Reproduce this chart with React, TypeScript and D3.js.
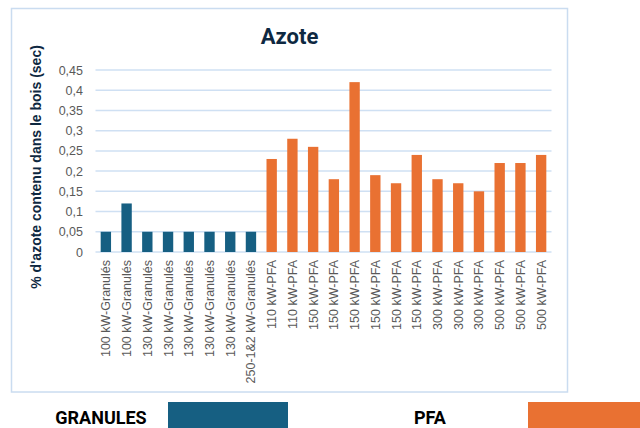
import React from "react";
import * as d3 from "d3";

const categories = [
  "100 kW-Granulés", "100 kW-Granulés", "130 kW-Granulés", "130 kW-Granulés",
  "130 kW-Granulés", "130 kW-Granulés", "130 kW-Granulés", "250-1&2 kW-Granulés",
  "110 kW-PFA", "110 kW-PFA", "150 kW-PFA", "150 kW-PFA", "150 kW-PFA",
  "150 kW-PFA", "150 kW-PFA", "150 kW-PFA", "300 kW-PFA", "300 kW-PFA",
  "300 kW-PFA", "500 kW-PFA", "500 kW-PFA", "500 kW-PFA",
];
const values = [
  0.05, 0.12, 0.05, 0.05, 0.05, 0.05, 0.05, 0.05,
  0.23, 0.28, 0.26, 0.18, 0.42, 0.19, 0.17, 0.24, 0.18, 0.17, 0.15, 0.22, 0.22, 0.24,
];
const groups = [
  "GRANULES", "GRANULES", "GRANULES", "GRANULES", "GRANULES", "GRANULES", "GRANULES", "GRANULES",
  "PFA", "PFA", "PFA", "PFA", "PFA", "PFA", "PFA", "PFA", "PFA", "PFA", "PFA", "PFA", "PFA", "PFA",
];
const yTicks = [0, 0.05, 0.1, 0.15, 0.2, 0.25, 0.3, 0.35, 0.4, 0.45];
const legendNames = ["GRANULES", "PFA"];
const colors: Record<string, string> = { GRANULES: "#165F82", PFA: "#E97132" };

export default function App() {
  const W = 640, H = 428;
  const left = 95.5, right = 551.5, top = 70, bottom = 252;
  const x = d3.scaleBand<number>().domain(d3.range(categories.length)).range([left, right]).paddingInner(0.5).paddingOuter(0.25);
  const y = d3.scaleLinear().domain([0, 0.45]).range([bottom, top]);
  const fmt = (v: number) => String(v).replace(".", ",");
  const legendX = [{ tx: 101, rx: 168, rw: 120 }, { tx: 430, rx: 528, rw: 120 }];
  return (
    <svg width={W} height={H} style={{ position: "absolute", left: 0, top: 0, background: "#fff" }}>
      <rect x={11.5} y={8.5} width={556} height={383.5} fill="#fff" stroke="#cadcf0" strokeWidth={1.5} />
      <text x={289.5} y={43.5} textAnchor="middle" fontFamily="Roboto" fontWeight={700} fontSize={22} fill="#0E2841">Azote</text>
      {yTicks.map((t) => (
        <g key={t}>
          <line x1={left} x2={right} y1={y(t)} y2={y(t)} stroke="#cfe0f3" strokeWidth={1.5} />
          <text x={83} y={y(t) + 4.5} textAnchor="end" fontFamily="Liberation Sans, Arial" fontSize={12.5} fill="#595959">{fmt(t)}</text>
        </g>
      ))}
      {values.map((v, i) => (
        <rect key={i} x={x(i)} y={y(v)} width={x.bandwidth()} height={y(0) - y(v)} fill={colors[groups[i]]} />
      ))}
      {categories.map((c, i) => {
        const cx = (x(i) as number) + x.bandwidth() / 2;
        return (
          <text key={i} transform={`translate(${cx + 4.5},260) rotate(-90)`} textAnchor="end" fontFamily="Liberation Sans, Arial" fontSize={12.5} fill="#595959">{c}</text>
        );
      })}
      <text transform={`translate(41,167) rotate(-90)`} textAnchor="middle" fontFamily="Liberation Sans, Arial" fontWeight={700} fontSize={14} fill="#0E2841">% d'azote contenu dans le bois (sec)</text>
      {legendNames.map((n, i) => (
        <g key={n}>
          <text x={legendX[i].tx} y={423.5} textAnchor="middle" fontFamily="Roboto" fontWeight={700} fontSize={18} fill="#000">{n}</text>
          <rect x={legendX[i].rx} y={402} width={legendX[i].rw} height={30} fill={colors[n]} />
        </g>
      ))}
    </svg>
  );
}
